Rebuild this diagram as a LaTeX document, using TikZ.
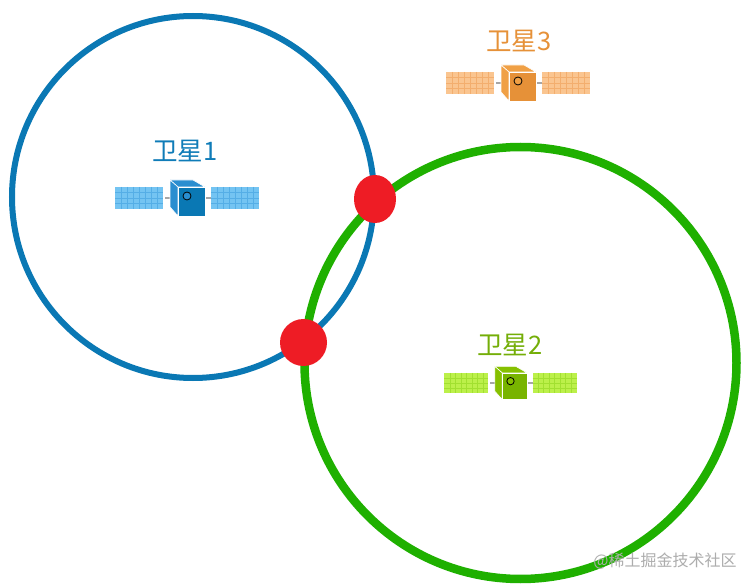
\documentclass[tikz,border=0pt]{standalone}
\usepackage{fontspec}
\usetikzlibrary{shapes.geometric}
\newfontfamily\cjk{Noto Sans CJK SC}
\definecolor{orbit_blue}{HTML}{0A78B4}
\definecolor{orbit_green}{HTML}{1FB000}
\definecolor{hit_red}{HTML}{EE1C25}
\definecolor{txt_blue}{HTML}{0F7CB8}
\definecolor{txt_green}{HTML}{74AE08}
\definecolor{txt_orange}{HTML}{E69138}
\definecolor{panel_blue}{HTML}{74C4F2}
\definecolor{grid_blue}{HTML}{55AEE6}
\definecolor{side_blue}{HTML}{2A8ED0}
\definecolor{panel_orange}{HTML}{FAC590}
\definecolor{grid_orange}{HTML}{F3AE6E}
\definecolor{side_orange}{HTML}{F0A045}
\definecolor{panel_green}{HTML}{BCF04A}
\definecolor{grid_green}{HTML}{A2E030}
\definecolor{front_green}{HTML}{78B400}
\definecolor{side_green}{HTML}{86C000}
\tikzset{
	orbit/.style = {circle, inner sep=0pt, fill=none},
	orbit_b/.style = {orbit, draw=orbit_blue, line width=6pt, minimum size=362pt},% orbit of sat 1
	orbit_g/.style = {orbit, draw=orbit_green, line width=8.5pt, minimum size=432pt},% orbit of sat 2
	hit_pt/.style = {ellipse, inner sep=0pt, fill=hit_red},
	sat_txt/.style = {inner sep=0pt, font=\cjk\fontsize{25.5}{26}\selectfont},
	mark_txt/.style = {inner sep=0pt, text=black!32, font=\cjk\fontsize{16}{16}\selectfont},
	pics/satellite/.style n args = {4}{code={
		% panels
		\foreach \px in {-72,24}{
			\fill[#1] (\px,-11) rectangle ++(48,22);
			\foreach \i in {1,...,7}
				\draw[#2, line width=.5pt] (\px+6*\i,-11) -- ++(0,22);
			\foreach \i in {1,...,3}
				\draw[#2, line width=.5pt] (\px,-11+5.5*\i) -- ++(48,0);
		}
		% stubs
		\draw[black!35, line width=1.5pt] (-22,0) -- (-13,0);
		\draw[black!35, line width=1.5pt] (19,0) -- (24,0);
		% body
		\fill[#4, draw=white, line width=.6pt] (-17,-18) -- (6,-18) -- (18,-11) -- (-9,-11) -- cycle;
		\fill[#4, draw=white, line width=.6pt] (-17,-18) -- (-9,-11) -- (-9,18) -- (-17,9) -- cycle;
		\fill[#3, draw=white, line width=.6pt] (-9,-11) rectangle (18,18);
		\draw[black, fill=#4, line width=.8pt] (0,-2) circle (4);
	}}
}
\begin{document}
\begin{tikzpicture}[x=1pt,y=-1pt]
	\useasboundingbox[fill=white] (0,0) rectangle (753,588);
	\node[orbit_g] (orbit_2) at (520.5,363) {};
	\node[orbit_b] (orbit_1) at (193,197) {};
	\node[hit_pt, minimum width=42pt, minimum height=48pt] (hit_a) at (375,199) {};
	\node[hit_pt, minimum width=47pt, minimum height=47pt] (hit_b) at (303.5,342.5) {};
	\node[sat_txt, text=txt_blue] (txt_1) at (185,151) {卫星1};
	\node[sat_txt, text=txt_orange] (txt_3) at (519,41) {卫星3};
	\node[sat_txt, text=txt_green] (txt_2) at (510,345) {卫星2};
	\pic (sat_1) at (187,198) {satellite={panel_blue}{grid_blue}{orbit_blue}{side_blue}};
	\pic (sat_3) at (518,83) {satellite={panel_orange}{grid_orange}{txt_orange}{side_orange}};
	\pic[scale=.92] (sat_2) at (510.5,383) {satellite={panel_green}{grid_green}{front_green}{side_green}};
	\node[mark_txt] (mark) at (665,561) {@稀土掘金技术社区};
\end{tikzpicture}
\end{document}
